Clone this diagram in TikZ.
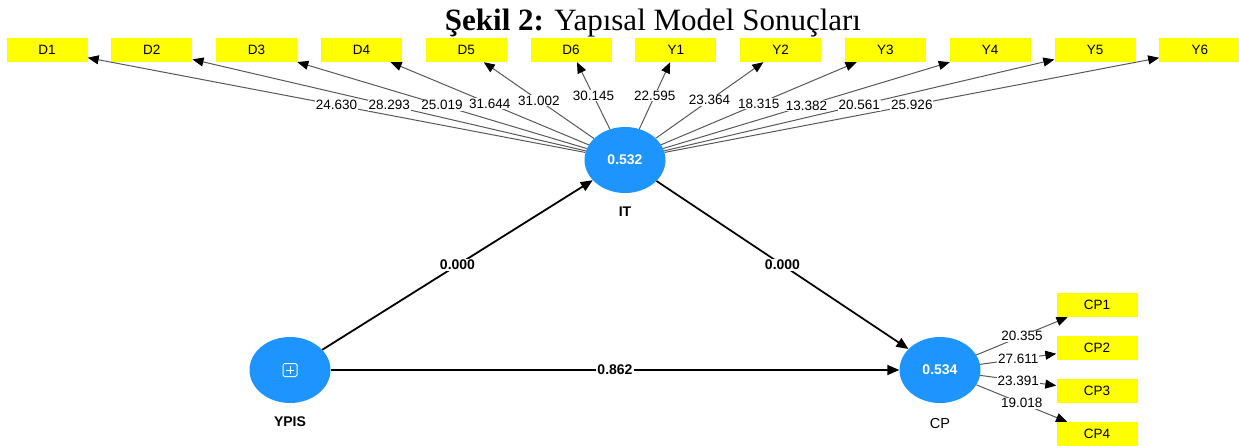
\documentclass[tikz,border=0pt]{standalone}
\usepackage{fontspec}
\setmainfont{Liberation Sans}
\newfontfamily\titlefont{Liberation Serif}
\usetikzlibrary{shapes.geometric,arrows.meta}
\definecolor{lvblue}{RGB}{30,148,255}
\definecolor{indyellow}{RGB}{255,255,0}
\begin{document}
\begin{tikzpicture}[x=1pt,y=-1pt,
  indbox/.style={fill=indyellow, minimum width=81pt, minimum height=24pt, inner sep=0pt, font=\fontsize{13.5}{15}\selectfont},
  lv/.style={ellipse, fill=lvblue, minimum width=81pt, minimum height=66pt, inner sep=0pt, text=white, font=\bfseries\fontsize{14}{16}\selectfont},
  loadline/.style={draw=black!65, line width=1pt, -{Triangle[length=11pt,width=9pt,color=black]}},
  pathline/.style={draw=black, line width=1.8pt, -{Triangle[length=12pt,width=10pt]}},
  loadlab/.style={fill=white, inner sep=0.8pt, font=\fontsize{13.5}{15}\selectfont},
  pathlab/.style={fill=white, inner sep=1pt, font=\bfseries\fontsize{14}{16}\selectfont},
  lvname/.style={font=\bfseries\fontsize{14}{16}\selectfont},
]
\useasboundingbox (0,0) rectangle (1239,445);
\fill[white] (0,0) rectangle (1239,445);

\node[anchor=base, font=\titlefont\fontsize{31}{34}\selectfont] (title) at (653,30) {\textbf{Şekil 2:} Yapısal Model Sonuçları};

% latent variables
\node[lv] (IT) at (625,160) {0.532};
\node[lv] (YPIS) at (290,370) {};
\node[lv] (CP) at (940,370) {0.534};
\node[lvname] (ITn) at (625,212) {IT};
\node[lvname] (YPISn) at (290,422) {YPIS};
\node[font=\fontsize{14.5}{16}\selectfont] (CPn) at (940,423) {CP};

% YPIS symbol
\draw[white, line width=1pt, rounded corners=1.5pt] (283,363.5) rectangle (297,376.5);
\draw[white, line width=1pt] (290,366) -- (290,374) (286,370) -- (294,370);

% indicator boxes
\foreach \n [count=\i from 0] in {D1,D2,D3,D4,D5,D6,Y1,Y2,Y3,Y4,Y5,Y6}{
  \node[indbox] (\n) at ({47+104.8*\i},50) {\n};
}
\foreach \n/\y in {CP1/305,CP2/348,CP3/391,CP4/434}{
  \node[indbox] (\n) at (1097,\y) {\n};
}

% loading lines
\foreach \n in {D1,D2,D3,D4,D5,D6,Y1,Y2,Y3,Y4,Y5,Y6}{
  \draw[loadline] (IT) -- (\n);
}
\foreach \n in {CP1,CP2,CP3,CP4}{
  \draw[loadline] (CP) -- (\n);
}
% loading labels
\foreach \n/\v in {D1/24.630,D2/28.293,D3/25.019,D4/31.644,D5/31.002,D6/30.145,Y1/22.595,Y2/23.364,Y3/18.315,Y4/13.382,Y5/20.561,Y6/25.926}{
  \path (IT) -- (\n) node[midway, loadlab] {\v};
}
\foreach \n/\v in {CP1/20.355,CP2/27.611,CP3/23.391,CP4/19.018}{
  \path (CP) -- (\n) node[midway, loadlab] {\v};
}

% structural paths
\draw[pathline] (YPIS) -- (IT) node[midway, pathlab] {0.000};
\draw[pathline] (IT) -- (CP) node[midway, pathlab] {0.000};
\draw[pathline] (YPIS) -- (CP) node[midway, pathlab] {0.862};
\end{tikzpicture}
\end{document}
